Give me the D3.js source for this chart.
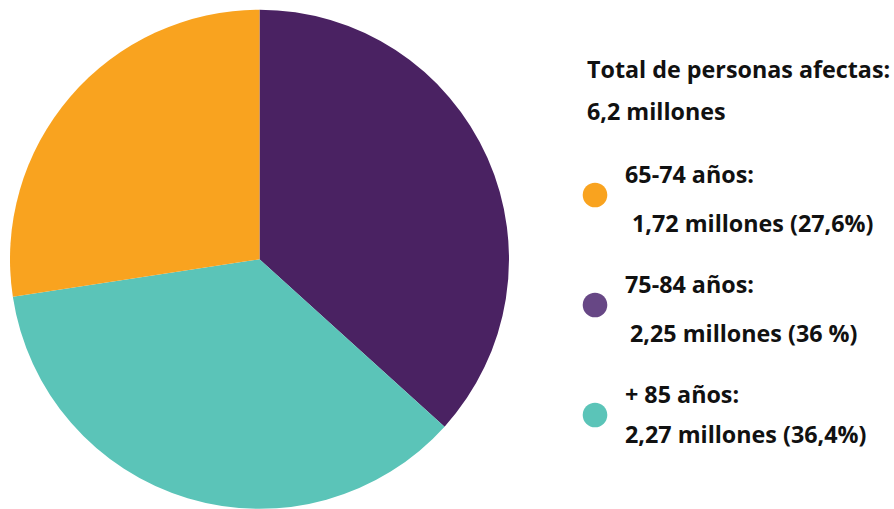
<!DOCTYPE html>
<html>
<head>
<meta charset="utf-8">
<script src="https://cdn.jsdelivr.net/npm/d3@7"></script>
<style>
  body { margin: 0; background: #fff; }
  text { font-family: "Open Sans", Lato, sans-serif; font-weight: bold; fill: #111; }
</style>
</head>
<body>
<div id="wrapper"></div>
<script>
// slices, clockwise from 12 o'clock (shares as drawn in the picture)
const groups = ["75-84 años:", "+ 85 años:", "65-74 años:"]
const shares = [36.7, 35.9, 27.4]
const colors = ["#4A2262", "#5BC4B8", "#F9A31F"]

// legend (top to bottom)
const legendOrder = [2, 0, 1]
const legendValues = ["1,72 millones (27,6%)", "2,25 millones (36 %)", "2,27 millones (36,4%)"]
const dotColors = ["#F9A31F", "#674785", "#5BC4B8"]
const totalLines = ["Total de personas afectas:", "6,2 millones"]

const dimensions = {
  width: 894,
  height: 509,
  cx: 259.5,
  cy: 259.3,
  radius: 249.5,
}

const svg = d3.select("#wrapper")
  .append("svg")
    .attr("width", dimensions.width)
    .attr("height", dimensions.height)

const pie = d3.pie().sort(null).value(d => d)
const arc = d3.arc().innerRadius(0).outerRadius(dimensions.radius)

svg.append("g")
    .attr("transform", `translate(${dimensions.cx},${dimensions.cy})`)
  .selectAll("path")
  .data(pie(shares))
  .join("path")
    .attr("d", arc)
    .attr("fill", (d, i) => colors[i])

const legend = svg.append("g")
const fontSize = "23.3px"

legend.selectAll("text.total")
  .data(totalLines)
  .join("text")
    .attr("class", "total")
    .attr("x", 587)
    .attr("y", (d, i) => 78 + i * 42)
    .style("font-size", fontSize)
    .text(d => d)

const rowY = d3.scaleLinear().domain([0, 1]).range([183, 293])
const valueX = [632, 630, 625]

const rows = legend.selectAll("g.row")
  .data(legendOrder)
  .join("g")
    .attr("class", "row")
    .attr("transform", (d, i) => `translate(0,${rowY(i)})`)

rows.append("circle")
    .attr("cx", 595)
    .attr("cy", 12)
    .attr("r", 12.3)
    .attr("fill", (d, i) => dotColors[i])

rows.append("text")
    .attr("x", 625)
    .attr("y", 0)
    .style("font-size", fontSize)
    .text(d => groups[d])

rows.append("text")
    .attr("x", (d, i) => valueX[i])
    .attr("y", (d, i) => i === 2 ? 40 : 49)
    .style("font-size", fontSize)
    .text((d, i) => legendValues[i])
</script>
</body>
</html>
